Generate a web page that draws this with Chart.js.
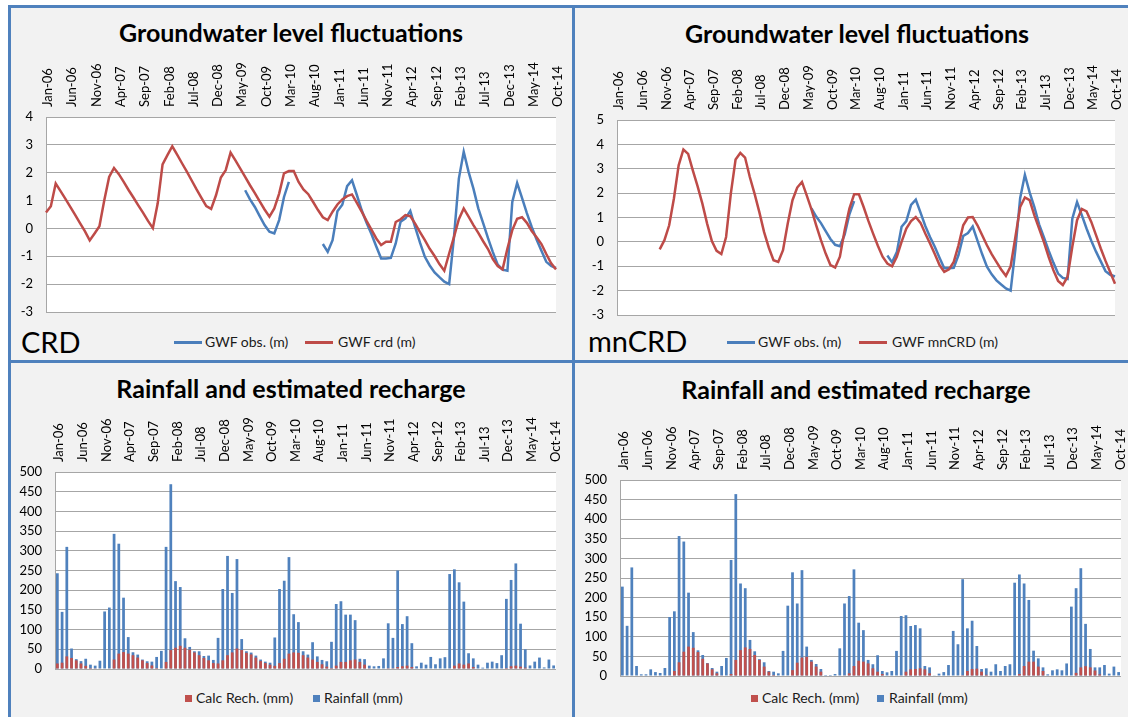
<!DOCTYPE html>
<html>
<head>
<meta charset="utf-8">
<script src="https://cdn.jsdelivr.net/npm/chart.js@4.4.1/dist/chart.umd.min.js"></script>
<style>
  html, body { margin: 0; padding: 0; background: #fff; }
  #page { position: relative; width: 1128px; height: 717px; overflow: hidden; font-family: Lato, "Open Sans", sans-serif; color: #000; }
  .panel { position: absolute; background: #f2f2f2; }
  .rule { position: absolute; background: #4f81bd; }
  .title { position: absolute; font-weight: bold; font-size: 25px; line-height: 25px; white-space: nowrap; transform: translateX(-50%); }
  .tag { position: absolute; font-size: 29px; line-height: 29px; white-space: nowrap; }
  .leg { position: absolute; font-size: 14px; line-height: 16px; white-space: nowrap; color: #1a1a1a; }
  .leg .ln { position: absolute; width: 28px; height: 3px; top: 7px; }
  .leg .sq { position: absolute; width: 7px; height: 7px; top: 5px; }
  .leg .tx { position: absolute; top: 0; }
  canvas { position: absolute; }
</style>
</head>
<body>
<div id="page">
  <div class="panel" style="left:8px;top:5px;width:1120px;height:712px;"></div>
  <div class="rule" style="left:8px;top:5px;width:1120px;height:3px;"></div>
  <div class="rule" style="left:8px;top:5px;width:3px;height:712px;"></div>
  <div class="rule" style="left:572px;top:5px;width:3px;height:712px;"></div>
  <div class="rule" style="left:8px;top:360px;width:1120px;height:3px;"></div>

  <div class="title" style="left:291px;top:20px;">Groundwater level fluctuations</div>
  <div class="title" style="left:857px;top:21px;">Groundwater level fluctuations</div>
  <div class="title" style="left:291px;top:376px;">Rainfall and estimated recharge</div>
  <div class="title" style="left:856px;top:377px;">Rainfall and estimated recharge</div>

  <div class="tag" style="left:21px;top:327px;">CRD</div>
  <div class="tag" style="left:588px;top:326px;">mnCRD</div>

  <canvas id="gwCrd" width="558" height="260" style="left:6px;top:57px;"></canvas>
  <canvas id="gwMn" width="546" height="260" style="left:577px;top:60px;"></canvas>
  <canvas id="rainCrd" width="549" height="262" style="left:15px;top:412px;"></canvas>
  <canvas id="rainMn" width="546" height="261" style="left:580px;top:420px;"></canvas>

  <div class="leg" style="left:0;top:334px;">
    <span class="ln" style="left:174px;background:#4a7ebb;"></span><span class="tx" style="left:205px;">GWF obs. (m)</span>
    <span class="ln" style="left:305px;background:#be4b48;"></span><span class="tx" style="left:338px;">GWF crd (m)</span>
  </div>
  <div class="leg" style="left:0;top:334px;">
    <span class="ln" style="left:727px;background:#4a7ebb;"></span><span class="tx" style="left:758px;">GWF obs. (m)</span>
    <span class="ln" style="left:859px;background:#be4b48;"></span><span class="tx" style="left:892px;">GWF mnCRD (m)</span>
  </div>
  <div class="leg" style="left:0;top:690px;">
    <span class="sq" style="left:185px;background:#c0504d;"></span><span class="tx" style="left:196px;">Calc Rech. (mm)</span>
    <span class="sq" style="left:313px;background:#4f81bd;"></span><span class="tx" style="left:324px;">Rainfall (mm)</span>
  </div>
  <div class="leg" style="left:0;top:690px;">
    <span class="sq" style="left:751px;background:#c0504d;"></span><span class="tx" style="left:762px;">Calc Rech. (mm)</span>
    <span class="sq" style="left:877px;background:#4f81bd;"></span><span class="tx" style="left:889px;">Rainfall (mm)</span>
  </div>
</div>

<script>
// Monthly categories, Jan-06 .. Oct-14
const monthNames = ['Jan','Feb','Mar','Apr','May','Jun','Jul','Aug','Sep','Oct','Nov','Dec'];
const years = ['06','07','08','09','10','11','12','13','14'];
const months = [];
years.forEach(y => monthNames.forEach(m => months.push(m + '-' + y)));
months.length = 106;

// Labels shown on the month axis (every fifth month)
const tickLabels = ['Jan-06','Jun-06','Nov-06','Apr-07','Sep-07','Feb-08','Jul-08','Dec-08','May-09','Oct-09',
  'Mar-10','Aug-10','Jan-11','Jun-11','Nov-11','Apr-12','Sep-12','Feb-13','Jul-13','Dec-13','May-14','Oct-14'];

// Observed groundwater level fluctuation (m); gaps where no readings exist
const gwfObserved = [
  null,null,null,null,null,null,null,null,null,null,
  null,null,null,null,null,null,null,null,null,null,
  null,null,null,null,null,null,null,null,null,null,
  null,null,null,null,null,null,null,null,null,null,
  null,1.37,1.04,0.77,0.44,0.12,-0.12,-0.18,0.30,1.13,
  1.67,null,null,null,null,null,null,-0.56,-0.84,-0.42,
  0.62,0.85,1.52,1.73,1.20,0.65,0.20,-0.20,-0.65,-1.08,
  -1.08,-1.06,-0.54,0.24,0.36,0.63,0.05,-0.51,-1.02,-1.33,
  -1.58,-1.75,-1.91,-2.00,-0.30,1.79,2.75,2.03,1.43,0.72,
  0.19,-0.35,-0.85,-1.30,-1.48,-1.52,0.95,1.63,1.10,0.55,
  0.05,-0.40,-0.80,-1.20,-1.35,-1.42
];

// CRD simulated fluctuation (m)
const gwfCrd = [
  0.57,0.80,1.61,1.34,1.06,0.77,0.49,0.19,-0.10,-0.43,
  -0.18,0.08,1.01,1.85,2.17,1.95,1.67,1.38,1.11,0.83,
  0.56,0.27,0.01,0.90,2.30,2.63,2.95,2.65,2.34,2.04,
  1.72,1.40,1.10,0.80,0.70,1.19,1.83,2.09,2.72,2.44,
  2.15,1.85,1.55,1.27,0.97,0.68,0.42,0.72,1.25,1.98,
  2.06,2.06,1.67,1.40,1.23,0.95,0.66,0.40,0.30,0.60,
  0.86,1.04,1.16,1.22,0.92,0.60,0.27,-0.04,-0.36,-0.60,
  -0.48,-0.48,0.23,0.33,0.48,0.44,0.17,-0.13,-0.42,-0.73,
  -0.99,-1.28,-1.52,-0.90,-0.30,0.33,0.72,0.42,0.12,-0.16,
  -0.46,-0.74,-1.10,-1.35,-1.47,-0.72,-0.06,0.35,0.40,0.20,
  -0.09,-0.32,-0.56,-0.92,-1.25,-1.47
];

// mnCRD simulated fluctuation (m), starting Oct-06
const gwfMnCrd = [
  null,null,null,null,null,null,null,null,null,-0.31,
  0.07,0.68,1.78,3.14,3.79,3.61,2.92,2.28,1.57,0.75,
  0.03,-0.37,-0.50,0.20,1.98,3.38,3.65,3.46,2.66,1.98,
  1.23,0.41,-0.23,-0.75,-0.82,-0.34,0.75,1.71,2.23,2.46,
  1.91,1.33,0.68,0.07,-0.48,-0.95,-1.05,-0.61,0.48,1.37,
  1.95,1.95,1.43,0.86,0.34,-0.16,-0.61,-0.89,-1.00,-0.61,
  0.00,0.55,0.85,1.02,0.78,0.34,-0.07,-0.50,-0.95,-1.23,
  -1.13,-0.82,-0.14,0.68,1.00,1.02,0.68,0.27,-0.14,-0.50,
  -0.82,-1.13,-1.39,-1.00,0.20,1.43,1.82,1.71,1.09,0.55,
  0.00,-0.61,-1.16,-1.60,-1.77,-1.43,-0.20,0.89,1.35,1.25,
  0.82,0.28,-0.27,-0.78,-1.25,-1.72
];

// Monthly rainfall and calculated recharge (mm), CRD panel
const rainfallCrd = [
  243,145,310,52,25,20,26,11,8.5,21,
  146,156,343,318,181,81,42.5,36.6,24,19.6,
  18.7,30.6,46,310,469,223,208,78,56,45,
  45,33,34,23,79,203,287,193,279,76,
  45,41.7,34,24,18.7,16,80,203,224,284,
  139,119,45,36.6,68,32,23,19.6,69,165,
  172,138,138,124,26,25,8.5,6.8,7.7,27,
  116,79,250,114,134,65.5,6.8,16,11,30.6,
  12,27,30,241,253,220,171,40,27,11,
  3.4,16,18.7,15,35,178,226,268,115,50,
  9,18.7,29,4,24,9
];
const rechargeCrd = [
  14,16,32,28,22,14,8,2.5,1.7,1,
  0,1,24,39,43,39,35,29,22,15,
  9,2.5,0,18,48,54,59,54,49,42,
  35,28,22,15,14,22,35,42,52,48,
  41,37,29,20,15,11,8,15,26,39,
  42,41,35,29,24,18,12,6,2.5,8.5,
  18,18,22,24,18,11,1.7,0,0,0,
  2,2,5,7,8.5,5,0,0,0,0,
  0,0,0,1,8.5,14,11,14,5,0,
  0,0,0,0,0,2.5,7,8.5,6,3.4,
  0,0,0,0,0,0
];

// Monthly rainfall and calculated recharge (mm), mnCRD panel
const rainfallMn = [
  228,128,277,25.5,4.3,4.3,17,10,7.7,20.4,
  150.5,165,357,343,212.6,112,65.5,53.6,33,20.4,
  11,25.5,46,296,464,236,224,92,63,43,
  35,12.8,11,6.8,64,179.4,264.5,185,270,75,
  41,30.6,17.9,2.5,2.5,5,70.6,185,204,272,
  136,117,41,30,53,12.8,9.4,12.8,64,153,
  155,127.6,130,121.6,25.5,22,1.7,6,10,28,
  115,81,247,121.6,141,76.5,17.9,19.6,11,30,
  12.8,25.5,30,238,259,236,194,64.6,45,22,
  4.3,14.5,17,14.5,32,177,224,275,133,69,
  22,22,28,6,24,10
];
const rechargeMn = [
  0,0,0,0,0,0,0,0,0,0,
  1.7,12.8,35,62,75,72,61,44,32,17,
  6.8,1,0,5,41,66,73,69,53.6,41,
  24,11,2.5,0,0,0,15,34,47,49,
  36.6,24,11,0,0,0,0,1,6.8,25.5,
  39,36.6,32,19.6,11,5,0,0,0,1,
  11,17,17.9,19.6,17,6.8,0,0,0,0,
  0,0,2,12.8,17.9,18.7,11,3,0,0,
  0,0,0,0,5,25.5,36.6,36.6,24,12.8,
  0,0,0,0,0,0,8,22,25,22,
  14,4,0,0,0,0
];

const GRID = '#a6a6a6';
const LINE_BLUE = '#4a7ebb', LINE_RED = '#be4b48';
const BAR_BLUE = '#4f81bd', BAR_RED = '#c0504d';
const tickFont = { family: 'Lato', size: 13 };

// White fill behind the plotting area
const plotBackground = {
  id: 'plotBackground',
  beforeDraw(chart) {
    const { ctx, chartArea: a } = chart;
    ctx.save();
    ctx.fillStyle = '#ffffff';
    ctx.fillRect(a.left, a.top, a.right - a.left, a.bottom - a.top);
    ctx.restore();
  }
};

// Fixed axis sizes so every plotting area sits at a known place on the page
function fixSize(prop, size) {
  return function (scale) {
    scale[prop] = size;
    scale.paddingTop = 0; scale.paddingBottom = 0;
    scale.paddingLeft = 0; scale.paddingRight = 0;
  };
}

function monthAxis(offset) {
  return {
    type: 'category', position: 'top', offset,
    grid: { display: false, drawTicks: false },
    border: { display: false },
    ticks: {
      autoSkip: false, minRotation: 90, maxRotation: 90, padding: 10, labelOffset: 17.5,
      color: '#000', font: tickFont,
      callback(value) {
        const l = this.getLabelForValue(value);
        return tickLabels.includes(l) ? l : '';
      }
    },
    afterFit: fixSize('height', 60)
  };
}

function valueAxis(min, max, step) {
  return {
    min, max,
    ticks: { stepSize: step, autoSkip: false, padding: 13, color: '#000', font: tickFont },
    grid: { color: GRID, drawTicks: false, lineWidth: 1 },
    border: { display: true, color: GRID, width: 1 },
    afterFit: fixSize('width', 40)
  };
}

function baseOptions(scales, right, bottom) {
  return {
    responsive: false, animation: false, events: [],
    layout: { padding: { left: 0, top: 0, right, bottom }, autoPadding: false },
    plugins: { legend: { display: false }, title: { display: false }, tooltip: { enabled: false } },
    scales
  };
}

function levelChart(id, observed, simulated, simLabel, yMax) {
  new Chart(document.getElementById(id), {
    type: 'line',
    data: {
      labels: months,
      datasets: [
        { label: simLabel, data: simulated, borderColor: LINE_RED, borderWidth: 2.5,
          pointRadius: 0, tension: 0, spanGaps: false, order: 0 },
        { label: 'GWF obs. (m)', data: observed, borderColor: LINE_BLUE, borderWidth: 2.5,
          pointRadius: 0, tension: 0, spanGaps: false, order: 1 }
      ]
    },
    options: baseOptions({ x: monthAxis(false), y: valueAxis(-3, yMax, 1) }, 8, 5),
    plugins: [plotBackground]
  });
}

function rainChart(id, rain, recharge, right) {
  const bar = { grouped: false, barPercentage: 0.58, categoryPercentage: 1, borderWidth: 0 };
  new Chart(document.getElementById(id), {
    type: 'bar',
    data: {
      labels: months,
      datasets: [
        Object.assign({ label: 'Calc Rech. (mm)', data: recharge, backgroundColor: BAR_RED, order: 0 }, bar),
        Object.assign({ label: 'Rainfall (mm)', data: rain, backgroundColor: BAR_BLUE, order: 1 }, bar)
      ]
    },
    options: baseOptions({ x: monthAxis(true), y: valueAxis(0, 500, 50) }, right, 5),
    plugins: [plotBackground]
  });
}

levelChart('gwCrd', gwfObserved, gwfCrd, 'GWF crd (m)', 4);
levelChart('gwMn', gwfObserved, gwfMnCrd, 'GWF mnCRD (m)', 5);
rainChart('rainCrd', rainfallCrd, rechargeCrd, 8);
rainChart('rainMn', rainfallMn, rechargeMn, 5);
</script>
</body>
</html>
